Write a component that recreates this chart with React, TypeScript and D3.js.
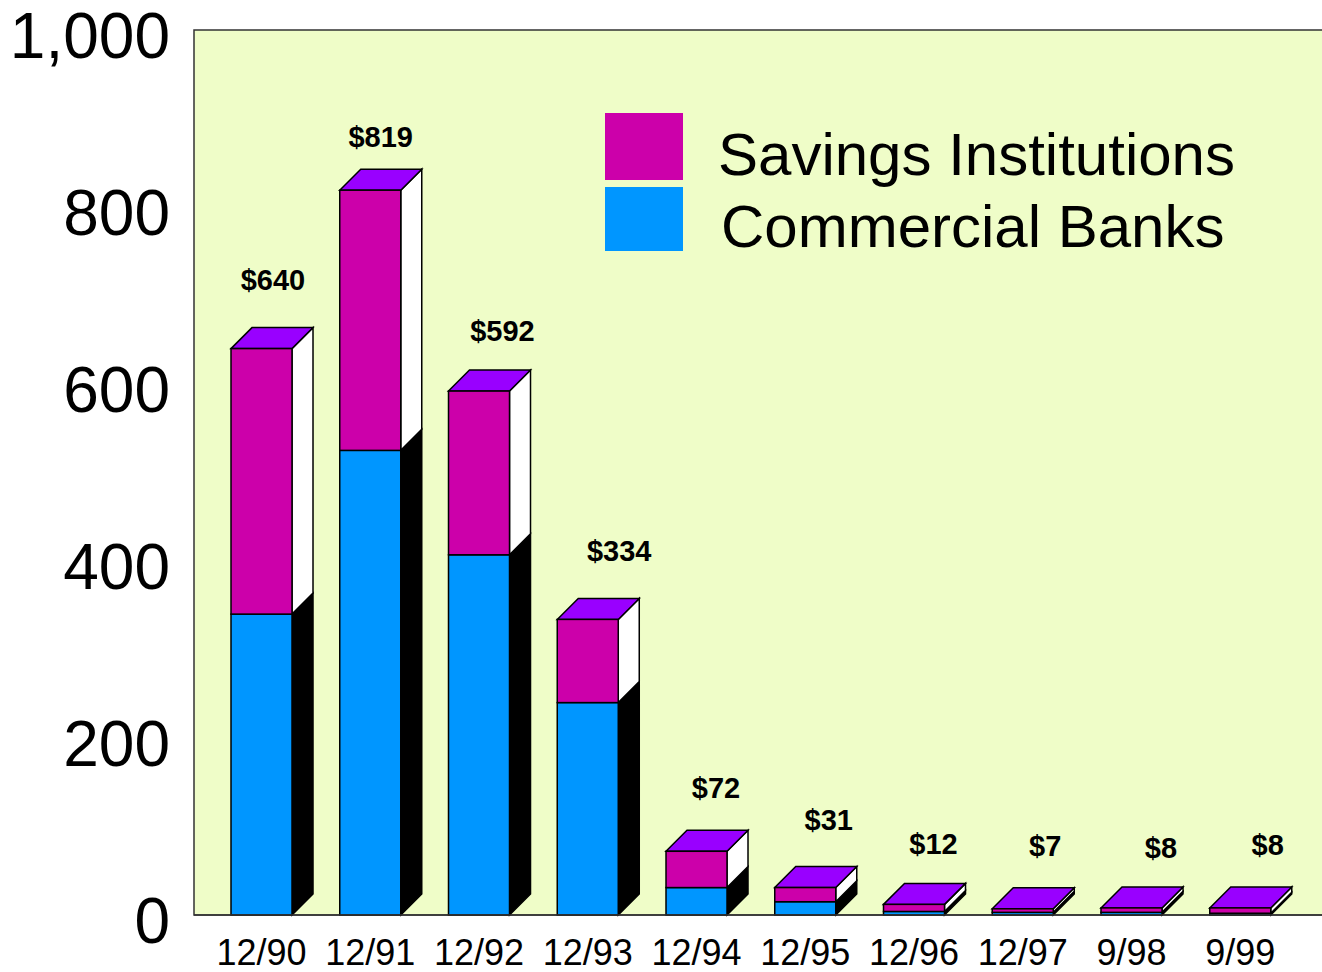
import React from "react";
import * as d3 from "d3";

const categories = ["12/90", "12/91", "12/92", "12/93", "12/94", "12/95", "12/96", "12/97", "9/98", "9/99"];
const commercialBanks = [340, 525, 407, 240, 31, 15, 4, 3, 3, 2];
const savingsInstitutions = [300, 294, 185, 94, 41, 16, 8, 4, 5, 6];
const totalLabels = ["$640", "$819", "$592", "$334", "$72", "$31", "$12", "$7", "$8", "$8"];
const yTicks = [0, 200, 400, 600, 800, 1000];
const seriesNames = ["Savings Institutions", "Commercial Banks"];

// label nudges (layout only)
const labelDx = [1, 0, 13, 21, 9, 13, 9, 12, 19, 17];
const labelDy = [-6, 10, 3, -5, 0, -5, 3, 0, 3, 0];

const W = 1322;
const H = 972;
const plotLeft = 194;
const plotTop = 30;
const plotBottom = 915;
const depth = 21;

const COL_SAV = "#CC00AA";
const COL_COM = "#0096FF";
const COL_TOP = "#9900FF";
const BG = "#EFFDC8";

export default function App() {
  const y = d3.scaleLinear().domain([0, 1000]).range([plotBottom, plotTop]);
  const x = d3
    .scaleBand<string>()
    .domain(categories)
    .range([231, 231 + 108.75 * (categories.length - 0.439)])
    .paddingInner(0.439)
    .paddingOuter(0);
  const bw = x.bandwidth();
  const fmt = d3.format(",");

  const side = (x1: number, yb: number, yt: number) =>
    `M${x1},${yb}L${x1 + depth},${yb - depth}L${x1 + depth},${yt - depth}L${x1},${yt}Z`;

  return (
    <svg width={W} height={H} style={{ position: "absolute", left: 0, top: 0, background: "#fff" }}>
      <rect x={plotLeft} y={plotTop} width={W - plotLeft + 2} height={plotBottom - plotTop} fill={BG} stroke="#333" strokeWidth={1.5} />
      {yTicks.map((t) => (
        <text key={t} x={170} y={y(t) + 6} textAnchor="end" dominantBaseline="central" fontFamily="Liberation Sans, Arial, sans-serif" fontSize={64} fill="#000">
          {fmt(t)}
        </text>
      ))}
      {categories.map((c, i) => {
        const x0 = x(c)!;
        const com = commercialBanks[i];
        const sav = savingsInstitutions[i];
        const y0 = y(0);
        const y1 = y(com);
        const y2 = y(com + sav);
        const x1 = x0 + bw;
        return (
          <g key={c} stroke="#000" strokeWidth={1.5} strokeLinejoin="miter">
            <path d={side(x1, y0, y1)} fill="#000" />
            <path d={side(x1, y1, y2)} fill="#fff" />
            <path d={`M${x0},${y2}L${x0 + depth},${y2 - depth}L${x1 + depth},${y2 - depth}L${x1},${y2}Z`} fill={COL_TOP} />
            <rect x={x0} y={y1} width={bw} height={y0 - y1} fill={COL_COM} />
            <rect x={x0} y={y2} width={bw} height={y1 - y2} fill={COL_SAV} />
          </g>
        );
      })}
      <line x1={plotLeft} x2={W} y1={plotBottom} y2={plotBottom} stroke="#333" strokeWidth={1.5} />
      {categories.map((c, i) => {
        const x0 = x(c)!;
        const top = y(commercialBanks[i] + savingsInstitutions[i]) - depth;
        return (
          <text key={"l" + c} x={x0 + bw / 2 + depth / 2 + labelDx[i]} y={top - 42 + labelDy[i]} textAnchor="middle" dominantBaseline="central" fontFamily="Liberation Sans, Arial, sans-serif" fontWeight="bold" fontSize={29} fill="#000">
            {totalLabels[i]}
          </text>
        );
      })}
      {categories.map((c) => (
        <text key={"x" + c} x={x(c)! + bw / 2} y={965} textAnchor="middle" fontFamily="Liberation Sans, Arial, sans-serif" fontSize={36} fill="#000">
          {c}
        </text>
      ))}
      <rect x={605} y={113} width={78} height={67} fill={COL_SAV} />
      <rect x={605} y={187} width={78} height={64} fill={COL_COM} />
      <text x={718} y={175} fontFamily="Liberation Sans, Arial, sans-serif" fontSize={60} fill="#000">
        {seriesNames[0]}
      </text>
      <text x={721} y={247} fontFamily="Liberation Sans, Arial, sans-serif" fontSize={60} fill="#000">
        {seriesNames[1]}
      </text>
    </svg>
  );
}
